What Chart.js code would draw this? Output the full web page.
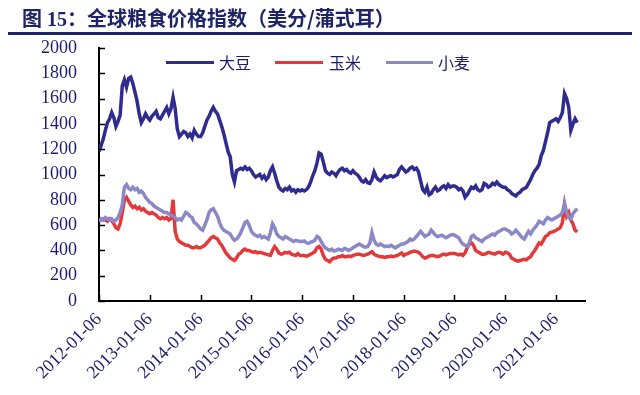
<!DOCTYPE html>
<html>
<head>
<meta charset="utf-8">
<script src="https://cdn.jsdelivr.net/npm/chart.js@4/dist/chart.umd.min.js"></script>
<style>
  html, body { margin: 0; padding: 0; background: #fff; }
  #wrap { position: relative; width: 640px; height: 395px; overflow: hidden; }
  #title { position: absolute; left: 22px; top: 3px; font: bold 20px "Liberation Serif", "Noto Sans CJK SC", serif; color: #1f2466; white-space: nowrap; }
  #title .cjk { font-family: "Noto Sans CJK SC", sans-serif; font-weight: bold; }
  #rule { position: absolute; left: 8px; top: 32px; width: 624px; height: 3px; background: #1f2466; }
  canvas { position: absolute; left: 0; top: 0; }
  .lg { position: absolute; height: 3px; top: 61px; }
  .lt { position: absolute; top: 52px; font: 16px "Noto Sans CJK SC", sans-serif; color: #1c1c6e; line-height: 20px; }
</style>
</head>
<body>
<div id="wrap">
  <canvas id="c" width="640" height="395"></canvas>
  <div id="title"><span class="cjk">图</span> 15<span class="cjk">：全球粮食价格指数（美分/蒲式耳）</span></div>
  <div id="rule"></div>
  <div class="lg" style="left:166px;width:48px;background:#2f2b8f"></div>
  <div class="lt" style="left:219px">大豆</div>
  <div class="lg" style="left:275px;width:48px;background:#e2393b"></div>
  <div class="lt" style="left:329px">玉米</div>
  <div class="lg" style="left:386px;width:47px;background:#8b88c8"></div>
  <div class="lt" style="left:438px">小麦</div>
</div>
<script>
// Semi-monthly observations starting 2012-01-06 (two per month)
const tickLabels = ["2012-01-06","2013-01-06","2014-01-06","2015-01-06","2016-01-06",
                    "2017-01-06","2018-01-06","2019-01-06","2020-01-06","2021-01-06"];
const seriesNames = ["大豆", "玉米", "小麦"];

const soybean = [
  // 2012
  1180,1230,1280,1350,1410,1440,1490,1450,1380,1420,1470,1700,1750,1690,1760,1770,1720,1650,1580,1480,1410,1440,1480,1450,
  // 2013
  1430,1460,1480,1500,1450,1440,1470,1500,1530,1480,1520,1610,1520,1360,1300,1320,1340,1330,1300,1320,1290,1350,1320,1300,
  // 2014
  1300,1330,1380,1430,1460,1500,1530,1500,1480,1430,1380,1320,1250,1180,1140,1000,940,1030,1040,1050,1040,1060,1040,1050,
  // 2015
  1030,1000,980,990,1000,970,990,960,980,1030,1060,1010,950,900,880,870,890,880,900,870,880,860,880,870,
  // 2016
  880,870,880,900,940,990,1030,1090,1170,1160,1100,1030,1010,1000,1020,1010,990,1020,1040,1050,1030,1040,1020,1010,
  // 2017
  1030,1010,1000,980,950,940,960,935,930,960,1020,980,960,950,970,990,975,985,990,980,990,1000,1040,1060,
  // 2018
  1040,1020,1030,1050,1060,1040,1050,1020,950,880,860,900,840,850,880,900,870,880,900,910,890,920,900,910,
  // 2019
  910,900,880,890,870,820,840,870,900,890,910,880,870,880,930,920,900,910,930,920,940,920,910,900,
  // 2020
  900,880,870,850,840,830,850,860,880,890,900,930,960,1000,1030,1050,1080,1150,1190,1260,1330,1410,1420,1430,
  // 2021
  1440,1420,1450,1490,1640,1600,1530,1350,1400,1440,1410
];

const corn = [
  // 2012
  630,640,650,640,630,650,640,610,580,570,610,700,800,820,790,760,740,750,730,740,720,730,710,700,
  // 2013
  690,700,690,680,660,650,660,650,660,640,650,800,550,490,470,460,450,440,440,430,420,420,430,420,
  // 2014
  420,430,440,460,480,500,510,500,490,460,440,410,380,360,340,330,320,340,370,380,400,410,400,400,
  // 2015
  390,385,390,380,385,380,375,370,365,360,400,430,410,380,370,375,385,380,385,370,365,360,375,360,
  // 2016
  360,360,355,360,370,380,390,420,430,410,360,330,320,310,330,340,340,350,350,360,350,350,355,350,
  // 2017
  360,365,370,370,365,360,365,370,380,390,370,360,355,350,350,345,350,350,355,350,355,360,370,380,
  // 2018
  360,370,375,385,390,395,390,385,370,350,340,345,355,360,360,355,350,355,365,370,365,370,375,375,
  // 2019
  375,370,365,370,360,380,420,450,460,440,400,390,380,370,370,375,385,380,375,370,380,385,380,370,
  // 2020
  385,380,370,340,330,320,315,320,325,330,325,340,350,380,400,430,460,450,480,510,520,540,545,550,
  // 2021
  560,570,580,620,760,670,700,640,610,560,545
];

const wheat = [
  // 2012
  630,650,640,660,650,640,650,630,640,660,700,760,900,920,890,880,900,880,890,860,870,850,820,800,
  // 2013
  780,770,750,740,730,720,710,700,700,690,680,670,660,640,650,640,670,700,690,670,660,620,610,590,
  // 2014
  570,560,600,640,700,720,730,700,670,620,580,560,550,540,530,500,480,490,510,540,580,620,630,600,
  // 2015
  550,530,520,510,520,500,510,500,490,540,610,580,530,510,500,490,510,500,490,480,470,480,475,470,
  // 2016
  470,475,460,455,465,470,480,510,500,470,440,420,410,400,410,395,400,410,405,400,415,410,400,410,
  // 2017
  420,430,440,450,440,430,425,430,460,540,480,450,440,450,440,430,435,430,440,430,420,430,440,450,
  // 2018
  450,460,470,490,480,490,510,530,550,530,510,520,530,560,540,520,510,515,520,510,500,510,520,525,
  // 2019
  520,510,500,470,450,440,430,460,510,520,500,490,480,470,490,500,510,520,530,520,540,550,560,570,
  // 2020
  570,560,550,530,540,560,540,520,500,490,520,550,530,560,580,600,630,620,610,640,660,650,640,650,
  // 2021
  660,670,680,700,770,700,660,650,690,710,730
];

const colors = ["#2f2b8f", "#e2393b", "#8b88c8"];
const perYear = 24;
const toPoints = arr => arr.map((v, i) => ({ x: i / perYear, y: v }));

const tickMarks = {
  id: 'tickMarks',
  afterDatasetsDraw(chart) {
    const { ctx, chartArea, scales: { x, y } } = chart;
    ctx.save();
    ctx.strokeStyle = '#000';
    ctx.lineWidth = 1.5;
    ctx.beginPath();
    x.ticks.forEach(t => {
      const px = Math.round(x.getPixelForValue(t.value)) + 0.5;
      ctx.moveTo(px, chartArea.bottom);
      ctx.lineTo(px, chartArea.bottom - 6);
    });
    y.ticks.forEach(t => {
      const py = Math.round(y.getPixelForValue(t.value)) + 0.5;
      ctx.moveTo(chartArea.left, py);
      ctx.lineTo(chartArea.left + 6, py);
    });
    ctx.stroke();
    ctx.restore();
  }
};

new Chart(document.getElementById('c'), {
  type: 'line',
  data: {
    datasets: [soybean, corn, wheat].map((arr, k) => ({
      label: seriesNames[k],
      data: toPoints(arr),
      borderColor: colors[k],
      backgroundColor: colors[k],
      borderWidth: 3.5,
      pointRadius: 0,
      tension: 0,
      order: k === 0 ? 3 : (k === 1 ? 2 : 1)
    }))
  },
  options: {
    responsive: false,
    animation: false,
    layout: { padding: { top: 48, right: 55, left: 0, bottom: 0 } },
    plugins: { legend: { display: false }, tooltip: { enabled: false } },
    scales: {
      x: {
        type: 'linear',
        min: 0,
        max: 9.57,
        afterBuildTicks: s => { s.ticks = s.ticks.filter(t => Number.isInteger(t.value) && t.value < tickLabels.length); },
        afterFit: s => { s.height = 94; },
        grid: { display: false, drawTicks: false },
        border: { display: true, color: '#000', width: 2 },
        ticks: {
          stepSize: 1,
          includeBounds: false,
          autoSkip: false,
          maxRotation: 45,
          minRotation: 45,
          padding: 8,
          color: '#1c1c6e',
          font: { family: 'Liberation Serif', size: 18 },
          callback: v => tickLabels[v] || ''
        }
      },
      y: {
        min: 0,
        max: 2000,
        afterFit: s => { s.width = 99; },
        grid: { display: false, drawTicks: false },
        border: { display: true, color: '#000', width: 2 },
        ticks: {
          stepSize: 200,
          padding: 22,
          color: '#1c1c6e',
          font: { family: 'Liberation Serif', size: 18 },
          callback: v => String(v)
        }
      }
    }
  },
  plugins: [tickMarks]
});
</script>
</body>
</html>
